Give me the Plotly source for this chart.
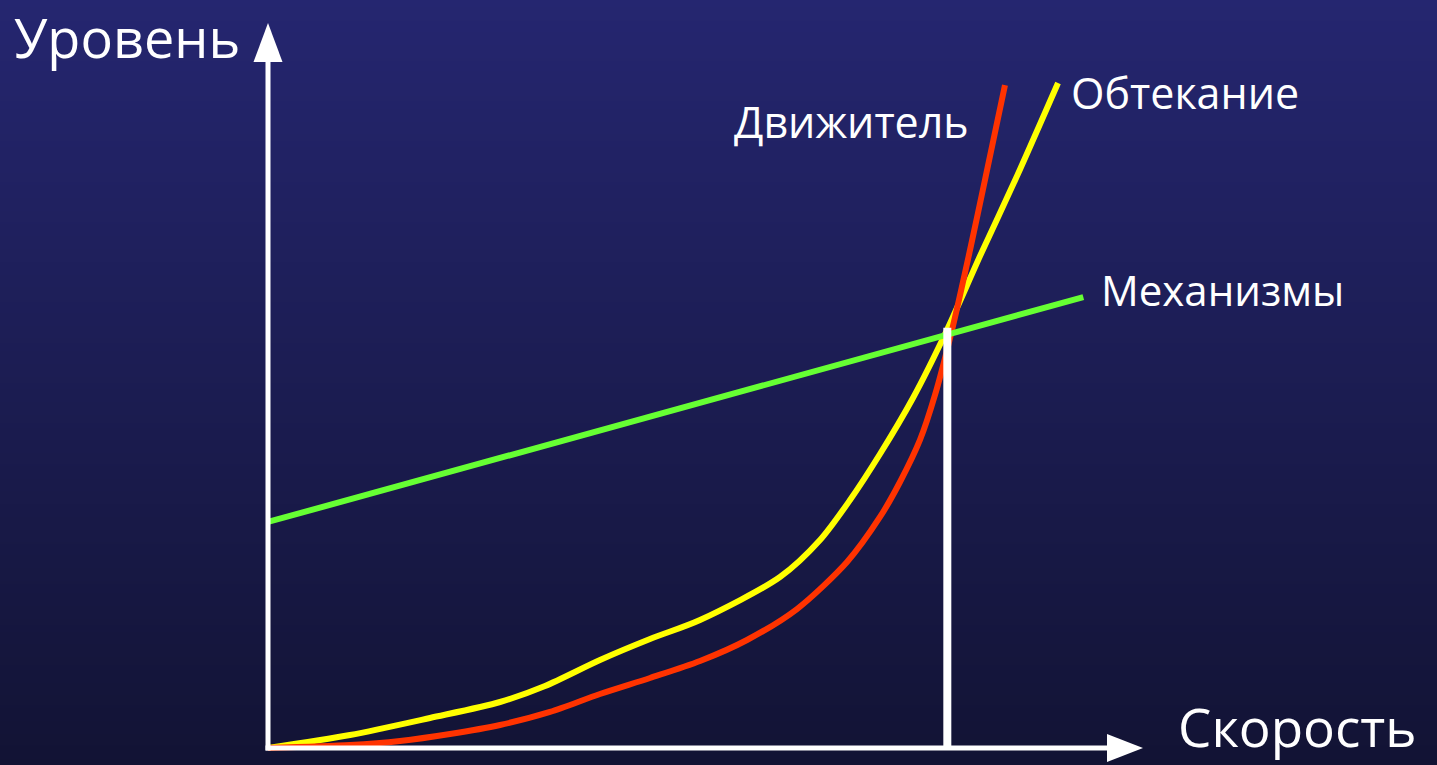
import plotly.graph_objects as go

# Canvas and scale: speed / level units mapped onto the 1437x765 page
W, H = 1437, 765
X0_PX, Y0_PX = 268, 748      # origin of the axes on the page
PX_PER_X, PX_PER_Y = 68.0, 41.4

# Flow resistance curve (speed -> level)
speed_flow = [0.0, 1.206, 2.382, 3.412, 4.074, 4.882, 5.618, 6.353, 7.529,
              8.118, 8.559, 9.000, 9.485, 9.971, 10.471, 11.015, 11.618]
level_flow = [0.0, 0.314, 0.725, 1.111, 1.498, 2.126, 2.633, 3.092, 4.130,
              5.024, 5.990, 7.101, 8.454, 10.048, 11.884, 13.816, 16.063]

# Propulsor curve
speed_prop = [0.0, 1.206, 1.941, 2.676, 3.412, 4.147, 4.882, 5.618, 6.353, 7.044,
              7.779, 8.515, 9.000, 9.294, 9.588, 9.809, 10.059, 10.324, 10.544, 10.838]
level_prop = [0.0, 0.072, 0.169, 0.338, 0.556, 0.870, 1.304, 1.691, 2.101, 2.609,
              3.357, 4.493, 5.580, 6.425, 7.440, 8.527, 10.097, 12.029, 13.720, 16.014]

# Machinery line
speed_mech = [0.0, 11.99]
level_mech = [5.46, 10.89]

operating_speed = 9.99
operating_level = 10.15

labels = {
    "flow": "Обтекание",
    "prop": "Движитель",
    "mech": "Механизмы",
    "y": "Уровень",
    "x": "Скорость",
}

TOP_COLOR = "rgb(37,38,112)"
BOTTOM_COLOR = "rgb(18,19,52)"


def px_x(v):
    return (v - X0_PX) / PX_PER_X


def px_y(v):
    return (Y0_PX - v) / PX_PER_Y


fig = go.Figure()

# smooth vertical background gradient across the page
fig.add_trace(go.Heatmap(
    x=[px_x(0), px_x(W)], y=[px_y(H), px_y(0)], z=[[0, 0], [1, 1]],
    colorscale=[[0, BOTTOM_COLOR], [1, TOP_COLOR]], zsmooth="best",
    showscale=False, hoverinfo="skip"))

fig.add_trace(go.Scatter(x=speed_flow, y=level_flow, mode="lines",
                         line=dict(color="#FFFF00", width=6, shape="spline", smoothing=0.8),
                         hoverinfo="skip"))
fig.add_trace(go.Scatter(x=speed_prop, y=level_prop, mode="lines",
                         line=dict(color="#FF3300", width=6, shape="spline", smoothing=0.8),
                         hoverinfo="skip"))
fig.add_trace(go.Scatter(x=speed_mech, y=level_mech, mode="lines",
                         line=dict(color="#66FF33", width=6),
                         hoverinfo="skip"))
fig.add_trace(go.Scatter(x=[operating_speed, operating_speed], y=[0, operating_level],
                         mode="lines", line=dict(color="#FFFFFF", width=8),
                         hoverinfo="skip"))

shapes = []
# axis shafts
shapes.append(dict(type="line", xref="x", yref="y", layer="above",
                   x0=0, y0=px_y(Y0_PX + 2.5), x1=0, y1=px_y(60),
                   line=dict(color="white", width=5)))
shapes.append(dict(type="line", xref="x", yref="y", layer="above",
                   x0=px_x(X0_PX - 2.5), y0=0, x1=px_x(1110), y1=0,
                   line=dict(color="white", width=5)))
# arrow heads
shapes.append(dict(type="path", xref="x", yref="y", layer="above",
                   path=f"M {px_x(X0_PX - 14.5)},{px_y(62)} L {px_x(X0_PX + 14.5)},{px_y(62)} "
                        f"L 0,{px_y(23)} Z",
                   fillcolor="white", line=dict(width=0)))
shapes.append(dict(type="path", xref="x", yref="y", layer="above",
                   path=f"M {px_x(1107)},{px_y(Y0_PX - 14)} L {px_x(1107)},{px_y(Y0_PX + 14)} "
                        f"L {px_x(1143)},0 Z",
                   fillcolor="white", line=dict(width=0)))

font_family = "Open Sans"


def label(text, left_px, mid_px, size, anchor="middle"):
    return dict(text=text, xref="paper", yref="paper", x=left_px / W, y=1 - mid_px / H,
                xanchor="left", yanchor=anchor, showarrow=False,
                font=dict(family=font_family, size=size, color="white"))


annotations = [
    label(labels["y"], 12, 37, 54),
    label(labels["x"], 1176, H, 53, anchor="bottom"),
    label(labels["flow"], 1069, 92, 43),
    label(labels["prop"], 732, 121, 43),
    label(labels["mech"], 1099, 289, 42),
]

fig.update_layout(
    width=W, height=H,
    margin=dict(l=0, r=0, t=0, b=0),
    paper_bgcolor=BOTTOM_COLOR,
    plot_bgcolor="rgba(0,0,0,0)",
    showlegend=False,
    xaxis=dict(range=[px_x(0), px_x(W)], visible=False, fixedrange=True),
    yaxis=dict(range=[px_y(H), px_y(0)], visible=False, fixedrange=True),
    shapes=shapes,
    annotations=annotations,
)

fig.write_html("out.html")
